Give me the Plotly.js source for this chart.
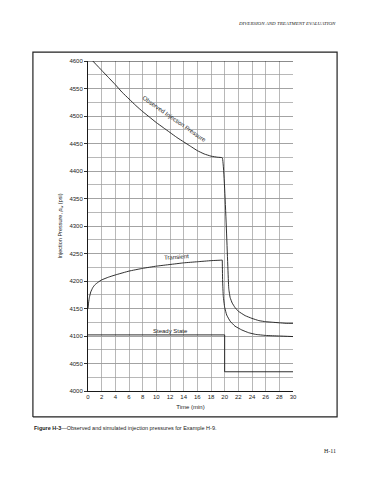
<!DOCTYPE html>
<html>
<head>
<meta charset="utf-8">
<script src="https://cdn.plot.ly/plotly-3.0.1.min.js"></script>
<style>html,body{margin:0;padding:0;background:#fff;}#chart{width:370px;height:480px;}</style>
</head>
<body>
<div id="chart"></div>
<script>
// Observed injection pressure (time in min, pressure in psi)
var observedTime = [0.7, 2, 3, 4, 5, 6, 7, 8, 9, 10, 11, 12, 13, 14, 15, 16, 17, 18, 19, 19.65,
  20.6, 20.8, 21.1, 21.5, 22, 23, 24, 25, 26, 27, 28, 29, 30];
var observedPressure = [4600, 4583, 4570, 4557, 4543, 4531, 4519, 4508, 4498, 4488, 4479, 4470, 4461, 4453, 4445, 4437, 4431, 4427, 4425, 4424,
  4186, 4170, 4160, 4152, 4145, 4137, 4132, 4128, 4126, 4125, 4124, 4123, 4123];

// Simulated transient pressure
var transientTime = [0, 0.1, 0.2, 0.4, 0.7, 1, 1.5, 2, 3, 4, 6, 8, 10, 12, 14, 16, 18, 19.65,
  19.65, 19.7, 19.8, 20, 20.3, 20.8, 21.5, 22.5, 23.5, 24.5, 26, 28, 30];
var transientPressure = [4150, 4162, 4170, 4180, 4188, 4193, 4198, 4202, 4207, 4211, 4218, 4223, 4227, 4230, 4233, 4235, 4237, 4238,
  4238, 4200, 4172, 4152, 4138, 4127, 4118, 4111, 4106, 4103, 4101, 4100, 4099];

// Simulated steady-state pressure
var steadyTime = [0, 20, 20, 30];
var steadyPressure = [4102, 4102, 4035, 4035];

// Axis ticks
var xTicks = [0, 2, 4, 6, 8, 10, 12, 14, 16, 18, 20, 22, 24, 26, 28, 30];
var yTicks = [4000, 4050, 4100, 4150, 4200, 4250, 4300, 4350, 4400, 4450, 4500, 4550, 4600];

// Page frame outline (in frame-subplot units, 0..1)
var frameX = [0, 1, 1, 0, 0];
var frameY = [0, 0, 1, 1, 0];

var SANS = 'Liberation Sans, Arial, sans-serif';
var SERIF = 'Liberation Serif, Times New Roman, serif';
var ink = '#1a1a1a';

var traces = [
  {x: frameX, y: frameY, xaxis: 'x2', yaxis: 'y2', mode: 'lines', line: {color: '#222', width: 1.2}, hoverinfo: 'none', cliponaxis: false},
  {x: observedTime, y: observedPressure, mode: 'lines', line: {color: ink, width: 0.9, shape: 'spline', smoothing: 0.3}, hoverinfo: 'none'},
  {x: transientTime, y: transientPressure, mode: 'lines', line: {color: ink, width: 0.9, shape: 'spline', smoothing: 0.3}, hoverinfo: 'none'},
  {x: steadyTime, y: steadyPressure, mode: 'lines', line: {color: ink, width: 0.9}, hoverinfo: 'none'}
];

var tickFont = {family: SANS, size: 6, color: '#222'};
var gridCol = '#9a9a9a';

// Paper area = outer page frame; the chart sits inside via axis domains
var FL = 32, FR = 338, FT = 51, FB = 418;
var FW = FR - FL, FH = FB - FT;
function px(xp) { return (xp - FL) / FW; }
function py(yp) { return (FB - yp) / FH; }

var frameAxis = {domain: [0, 1], range: [-0.003, 1.003], visible: false, showgrid: false, zeroline: false, fixedrange: true};

var layout = {
  width: 370, height: 480,
  margin: {l: FL, r: 370 - FR, t: FT, b: 480 - FB},
  paper_bgcolor: '#fff', plot_bgcolor: 'rgba(0,0,0,0)',
  showlegend: false,
  xaxis: {
    domain: [px(88), px(293)],
    range: [0, 30], tickvals: xTicks, ticktext: xTicks.map(String),
    showgrid: true, gridcolor: gridCol, gridwidth: 0.7,
    showline: true, linecolor: ink, linewidth: 1,
    ticks: '', tickfont: tickFont, zeroline: false, fixedrange: true,
    title: {text: 'Time (min)', font: {family: SANS, size: 6, color: '#222'}, standoff: 5}
  },
  yaxis: {
    domain: [py(391), py(61)],
    range: [4000, 4600], tickvals: yTicks, ticktext: yTicks.map(String),
    showgrid: true, gridcolor: gridCol, gridwidth: 0.7,
    minor: {dtick: 25, showgrid: true, gridcolor: gridCol, gridwidth: 0.7},
    showline: true, linecolor: ink, linewidth: 1, mirror: false,
    ticks: 'outside', ticklen: 3, tickcolor: '#333', tickfont: tickFont, zeroline: false, fixedrange: true,
    title: {text: 'Injection Pressure, <i>p</i><sub>w</sub> (psi)', font: {family: SANS, size: 5.5, color: '#222'}, standoff: 6}
  },
  xaxis2: Object.assign({anchor: 'y2'}, frameAxis),
  yaxis2: Object.assign({anchor: 'x2'}, frameAxis),
  shapes: [
    {type: 'line', xref: 'x', yref: 'y', x0: 0, x1: 30, y0: 4600, y1: 4600, line: {color: ink, width: 1}}
  ],
  annotations: [
    {x: 12.6, y: 4494, xref: 'x', yref: 'y', text: 'Observed Injection Pressure', showarrow: false, textangle: 35,
      font: {family: SANS, size: 6, color: '#222'}},
    {x: 12.9, y: 4243, xref: 'x', yref: 'y', text: 'Transient', showarrow: false, textangle: -4,
      font: {family: SANS, size: 6, color: '#222'}},
    {x: 12.0, y: 4110, xref: 'x', yref: 'y', text: 'Steady State', showarrow: false,
      font: {family: SANS, size: 6, color: '#222'}},
    {x: px(338), y: py(24), xref: 'paper', yref: 'paper', xanchor: 'right', yanchor: 'middle',
      text: '<i>DIVERSION AND TREATMENT EVALUATION</i>', showarrow: false,
      font: {family: SERIF, size: 5, color: '#222'}},
    {x: px(32), y: py(428), xref: 'paper', yref: 'paper', xanchor: 'left', yanchor: 'middle',
      text: '<b>Figure H-3</b>\u2014Observed and simulated injection pressures for Example H-9.', showarrow: false,
      font: {family: SANS, size: 5.5, color: '#222'}},
    {x: px(338), y: py(451), xref: 'paper', yref: 'paper', xanchor: 'right', yanchor: 'middle',
      text: 'H-11', showarrow: false,
      font: {family: SERIF, size: 6, color: '#222'}}
  ]
};

Plotly.newPlot('chart', traces, layout, {staticPlot: true, displayModeBar: false});
</script>
</body>
</html>
